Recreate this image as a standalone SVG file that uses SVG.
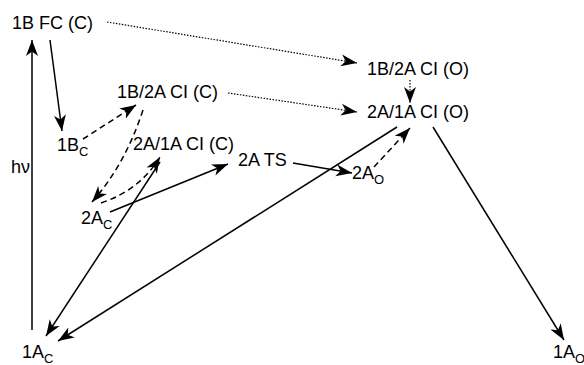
<svg xmlns="http://www.w3.org/2000/svg" width="584" height="365" viewBox="0 0 584 365">
<defs>
<marker id="ah" markerUnits="userSpaceOnUse" markerWidth="17" markerHeight="13" refX="16" refY="6.5" orient="auto">
<path d="M0,0.5 L16,6.5 L0,12.5 L4.5,6.5 z" fill="#000"/>
</marker>
<style>
text{font-family:"Liberation Sans",Arial,sans-serif;font-size:18px;fill:#000}
.sub{font-size:13px}
.s{fill:none;stroke:#000;stroke-width:1.5}
.d{fill:none;stroke:#000;stroke-width:1.5;stroke-dasharray:6,4}
.t{fill:none;stroke:#000;stroke-width:1.2;stroke-dasharray:1.5,1.5}
</style>
</defs>
<rect width="584" height="365" fill="#fff"/>
<g id="connectors">
<line class="s" x1="32" y1="330" x2="32" y2="40" marker-end="url(#ah)"/>
<line class="s" x1="50" y1="40" x2="62" y2="131" marker-end="url(#ah)"/>
<line class="t" x1="107" y1="22" x2="357" y2="63" marker-end="url(#ah)"/>
<line class="t" x1="228" y1="93" x2="357" y2="112" marker-end="url(#ah)"/>
<line class="t" x1="410" y1="80" x2="410" y2="103" marker-end="url(#ah)"/>
<line class="d" x1="83" y1="139" x2="136" y2="105" marker-end="url(#ah)"/>
<path class="d" d="M143,110 Q125,165 92,202" marker-end="url(#ah)"/>
<path class="d" d="M101,203 Q140,190 160,157" marker-end="url(#ah)"/>
<line class="s" x1="110" y1="212" x2="228" y2="164" marker-end="url(#ah)"/>
<line class="s" x1="160" y1="162" x2="46" y2="336" marker-end="url(#ah)"/>
<line class="s" x1="397" y1="127" x2="58" y2="341" marker-end="url(#ah)"/>
<line class="s" x1="293" y1="163" x2="352" y2="173" marker-end="url(#ah)"/>
<line class="d" x1="374" y1="167" x2="410" y2="128" marker-end="url(#ah)"/>
<line class="s" x1="433" y1="127" x2="564" y2="340" marker-end="url(#ah)"/>
</g>
<g id="n1BFC"><text x="12" y="29">1B FC (C)</text></g>
<g id="n1B2ACIO"><text x="367" y="75">1B/2A CI (O)</text></g>
<g id="n2A1ACIO"><text x="367" y="118">2A/1A CI (O)</text></g>
<g id="n1B2ACIC"><text x="117" y="98">1B/2A CI (C)</text></g>
<g id="n2A1ACIC"><text x="133" y="150">2A/1A CI (C)</text></g>
<g id="n2ATS"><text x="238" y="166">2A TS</text></g>
<g id="n2AO"><text x="352" y="179">2A<tspan class="sub" dy="5">O</tspan></text></g>
<g id="n2AC"><text x="81" y="224">2A<tspan class="sub" dy="5">C</tspan></text></g>
<g id="n1BC"><text x="57" y="151">1B<tspan class="sub" dy="5">C</tspan></text></g>
<g id="nhv"><text x="11" y="173">hν</text></g>
<g id="n1AC"><text x="22" y="358">1A<tspan class="sub" dy="5">C</tspan></text></g>
<g id="n1AO"><text x="553" y="358">1A<tspan class="sub" dy="5">O</tspan></text></g>
</svg>
